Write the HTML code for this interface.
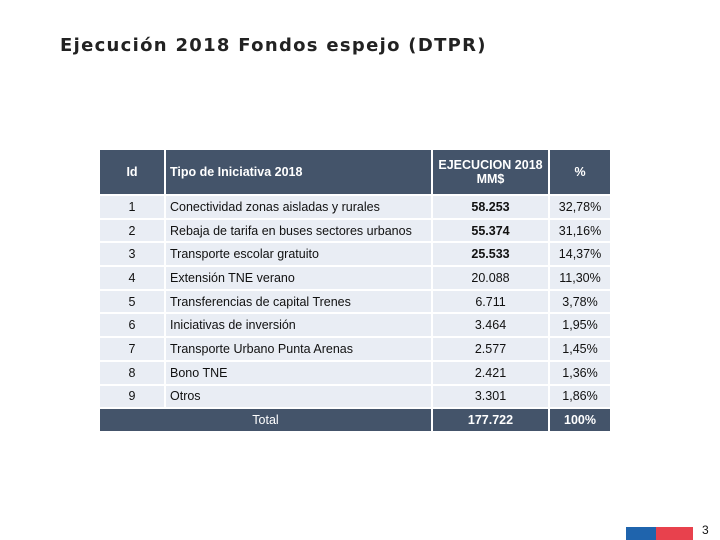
<!DOCTYPE html>
<html><head><meta charset="utf-8"><style>
body{margin:0;width:720px;height:540px;background:#fff;position:relative;overflow:hidden;font-family:"Liberation Sans",sans-serif;}
#title{position:absolute;left:60px;top:35px;font-family:"DejaVu Sans",sans-serif;font-weight:bold;font-size:18px;letter-spacing:1.3px;color:#222;margin:0;}
table{position:absolute;left:98px;top:148px;border-collapse:separate;border-spacing:2px;font-size:12.5px;color:#111;}
td,th{padding:0 4px;height:21.7px;background:#e9edf4;}
th{background:#44546a;color:#fff;font-weight:bold;height:44px;}
.c{text-align:center}.l{text-align:left}
.b{font-weight:bold}
tr.tot td{background:#44546a;color:#fff;}
</style></head><body>
<h1 id="title">Ejecución 2018 Fondos espejo (DTPR)</h1>
<table>
<tr>
<th class="c" style="width:56px">Id</th>
<th class="l" style="width:257px">Tipo de Iniciativa 2018</th>
<th class="c" style="width:107px">EJECUCION 2018<br>MM$</th>
<th class="c" style="width:52px">%</th></tr>
<tr><td class="c">1</td><td>Conectividad zonas aisladas y rurales</td><td class="c b">58.253</td><td class="c">32,78%</td></tr>
<tr><td class="c">2</td><td>Rebaja de tarifa en buses sectores urbanos</td><td class="c b">55.374</td><td class="c">31,16%</td></tr>
<tr><td class="c">3</td><td>Transporte escolar gratuito</td><td class="c b">25.533</td><td class="c">14,37%</td></tr>
<tr><td class="c">4</td><td>Extensión TNE verano</td><td class="c">20.088</td><td class="c">11,30%</td></tr>
<tr><td class="c">5</td><td>Transferencias de capital Trenes</td><td class="c">6.711</td><td class="c">3,78%</td></tr>
<tr><td class="c">6</td><td>Iniciativas de inversión</td><td class="c">3.464</td><td class="c">1,95%</td></tr>
<tr><td class="c">7</td><td>Transporte Urbano Punta Arenas</td><td class="c">2.577</td><td class="c">1,45%</td></tr>
<tr><td class="c">8</td><td>Bono TNE</td><td class="c">2.421</td><td class="c">1,36%</td></tr>
<tr><td class="c">9</td><td>Otros</td><td class="c">3.301</td><td class="c">1,86%</td></tr>
<tr class="tot"><td colspan="2" class="c">Total</td><td class="c b">177.722</td><td class="c b">100%</td></tr>
</table>
<div style="position:absolute;left:626px;top:527px;width:30px;height:13px;background:#1f64ad"></div>
<div style="position:absolute;left:656px;top:527px;width:37px;height:13px;background:#e8414d"></div>
<div style="position:absolute;left:702px;top:523px;font-size:12px;color:#111">3</div>
</body></html>
